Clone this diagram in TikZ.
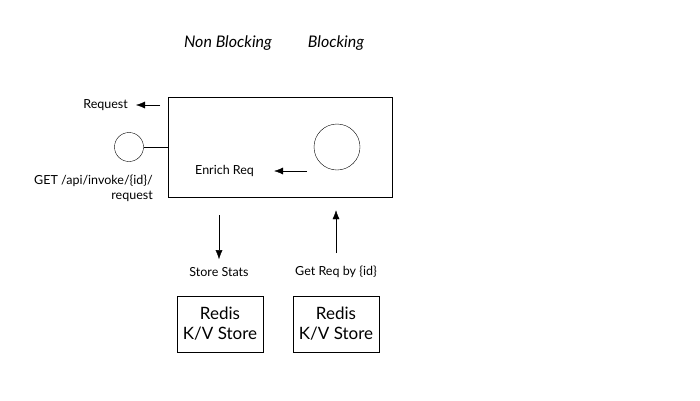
\documentclass[tikz,border=0pt]{standalone}
\usepackage{fontspec}
\setmainfont{Lato}
\usetikzlibrary{shadows,arrows.meta}
\tikzset{
    lbl/.style={font=\fontsize{12.5}{15}\selectfont, inner sep=0pt},
    store/.style={draw, fill=white, minimum width=86pt, minimum height=56pt, align=center,
        font=\fontsize{17}{20}\selectfont, drop shadow={opacity=.25, shadow xshift=1pt, shadow yshift=-1pt}},
    flow/.style={-{Latex[length=9pt,width=7pt]}},
}
\begin{document}
\begin{tikzpicture}[x=1pt, y=-1pt]
\useasboundingbox[fill=white] (0,0) rectangle (700,400);
\node[font=\fontsize{16}{18}\selectfont\itshape] (nb) at (228,43) {Non Blocking};
\node[font=\fontsize{16}{18}\selectfont\itshape] (bl) at (336,43) {Blocking};

\node[draw, minimum width=224pt, minimum height=100pt, inner sep=0pt] (svc) at (280,147) {};
\node[draw, circle, minimum size=29pt, inner sep=0pt] (ep) at (129,147) {};
\node[draw, circle, minimum size=46pt, inner sep=0pt] (blk) at (337,147) {};
\draw (ep) -- (svc.west |- ep);

\node[lbl, anchor=east] (req) at (128,105) {Request};
\coordinate (reqs) at (160,105);
\draw[flow] (reqs) -- ([xshift=8pt]req.east);

\node[lbl, align=right, anchor=north east] (get) at (153,175) {GET /api/invoke/\{id\}/\\request};

\node[lbl, anchor=west] (enr) at (195,171) {Enrich Req};
\coordinate (enrs) at (307,171);
\draw[flow] (enrs) -- ([xshift=20pt]enr.east);

\node[store] (r1) at (220,324) {Redis\\K/V Store};
\node[store] (r2) at (336,324) {Redis\\K/V Store};
\node[lbl] (ss) at (219,272) {Store Stats};
\node[lbl] (gr) at (336,272) {Get Req by \{id\}};

\coordinate (s1) at (219,215);
\coordinate (s2) at (336,253);
\draw[flow] (s1) -- ([yshift=8pt]ss.north);
\draw[flow] (s2) -- ([yshift=-13pt]svc.south -| s2);
\end{tikzpicture}
\end{document}
